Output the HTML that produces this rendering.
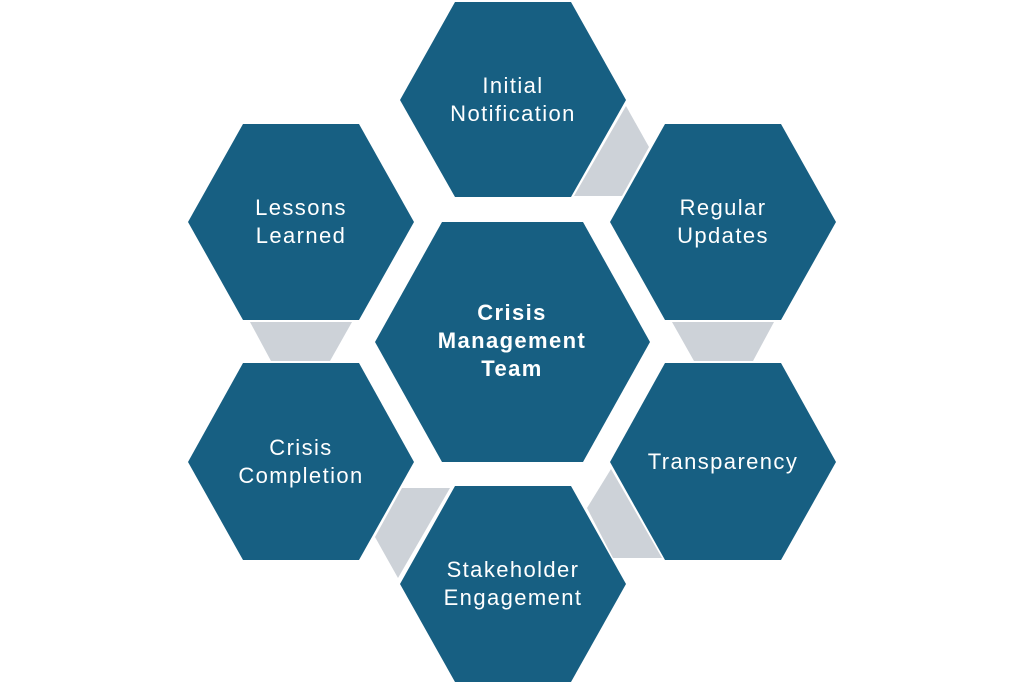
<!DOCTYPE html>
<html><head><style>
body{margin:0;background:#fff;}
svg text{font-family:"Liberation Sans",sans-serif;font-size:22px;letter-spacing:1.4px;fill:#fff;text-anchor:middle;}
</style></head><body>
<svg width="1024" height="685" viewBox="0 0 1024 685" xmlns="http://www.w3.org/2000/svg">
<g fill="#CDD2D8">
<polygon points="626,106 649,147 622,196 574,196"/>
<polygon points="672,322 774,322 753,361 694,361"/>
<polygon points="611,469 662,558 613,558 587,508"/>
<polygon points="398,578 375,537 402,488 450,488"/>
<polygon points="352,322 250,322 271,361 330,361"/>
</g>
<g fill="#175F82">
<polygon points="455,2 571,2 626,100 571,197 455,197 400,100"/>
<polygon points="665,124 781,124 836,222 781,320 665,320 610,222"/>
<polygon points="665,363 781,363 836,462 781,560 665,560 610,462"/>
<polygon points="455,486 571,486 626,584 571,682 455,682 400,584"/>
<polygon points="243,363 359,363 414,462 359,560 243,560 188,462"/>
<polygon points="243,124 359,124 414,222 359,320 243,320 188,222"/>
<polygon points="442,222 583,222 650,342 583,462 442,462 375,342"/>
</g>
<text x="513" y="93">Initial</text><text x="513" y="121">Notification</text>
<text x="723" y="215">Regular</text><text x="723" y="243">Updates</text>
<text x="723" y="469">Transparency</text>
<text x="513" y="577">Stakeholder</text><text x="513" y="605">Engagement</text>
<text x="301" y="455">Crisis</text><text x="301" y="483">Completion</text>
<text x="301" y="215">Lessons</text><text x="301" y="243">Learned</text>
<g style="font-weight:bold;font-size:19px;letter-spacing:0.3px"><text x="512" y="320">Crisis</text><text x="512" y="348">Management</text><text x="512" y="376">Team</text></g>
</svg>
</body></html>
